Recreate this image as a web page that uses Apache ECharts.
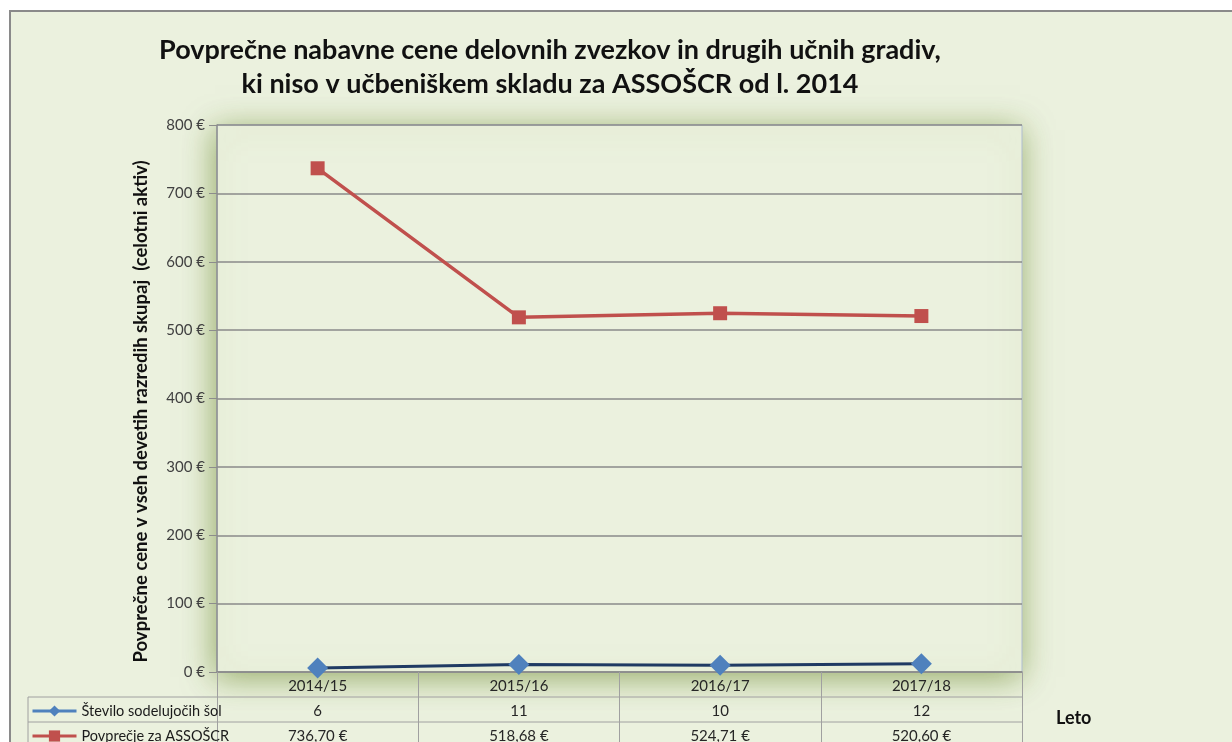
<!DOCTYPE html>
<html>
<head>
<meta charset="utf-8">
<script src="https://cdn.jsdelivr.net/npm/echarts@6/dist/echarts.min.js"></script>
<style>
html,body{margin:0;padding:0;background:#ffffff;}
#frame{position:absolute;left:9px;top:10px;width:1240px;height:760px;background:#EBF1DE;border-top:2px solid #8a8a8a;border-left:2px solid #8a8a8a;}
#chart{position:absolute;left:0;top:0;width:1232px;height:742px;}
</style>
</head>
<body>
<div id="frame"></div>
<div id="chart"></div>
<script>
const FONT = "Lato, 'Open Sans', sans-serif";
const titleLines = ["Povprečne nabavne cene delovnih zvezkov in drugih učnih gradiv,", "ki niso v učbeniškem skladu za ASSOŠCR od l. 2014"];
const yAxisTitle = "Povprečne cene v vseh devetih razredih skupaj  (celotni aktiv)";
const xAxisTitle = "Leto";
const categories = ["2014/15", "2015/16", "2016/17", "2017/18"];
const schoolsName = "Število sodelujočih šol";
const schoolsCount = [6, 11, 10, 12];
const avgName = "Povprečje za ASSOŠCR";
const avgPrice = [736.70, 518.68, 524.71, 520.60];
const yTicks = [0, 100, 200, 300, 400, 500, 600, 700, 800];

const G = {left: 217, right: 1022, top: 125, bottom: 672};
const rowH = 25;
const tableLeft = 28;
const fmtEur = v => v.toFixed(2).replace('.', ',') + ' €';

const chart = echarts.init(document.getElementById('chart'));
const lineColor = '#a0a0a0';

chart.setOption({
  backgroundColor: 'transparent',
  textStyle: {fontFamily: FONT},
  title: {
    text: titleLines.join('\n'),
    left: 545, top: 28, textAlign: 'center',
    textStyle: {fontFamily: FONT, fontSize: 27, fontWeight: 'bold', color: '#111', lineHeight: 34}
  },
  grid: {
    left: G.left, right: 1232 - G.right, top: G.top, bottom: 742 - G.bottom,
    containLabel: false, outerBoundsMode: 'none',
    show: true, backgroundColor: '#EBF1DE', borderColor: '#b0bdd2', borderWidth: 1,
    shadowColor: 'rgba(105,135,45,0.65)', shadowBlur: 30, shadowOffsetX: -2, shadowOffsetY: 5
  },
  legend: {
    orient: 'vertical', left: 31, bottom: -3, padding: 0, itemGap: 7, itemWidth: 44, itemHeight: 14,
    textStyle: {fontFamily: FONT, fontSize: 14.5, color: '#1a1a1a', lineHeight: 18},
    data: [
      {name: schoolsName, itemStyle: {color: '#4F81BD'}, lineStyle: {color: '#4F81BD', width: 3}},
      {name: avgName, itemStyle: {color: '#C0504D'}, lineStyle: {color: '#C0504D', width: 3}}
    ]
  },
  xAxis: {
    type: 'category', data: categories, boundaryGap: true,
    name: xAxisTitle, nameLocation: 'end', nameGap: 34,
    nameTextStyle: {fontFamily: FONT, fontSize: 18, fontWeight: 'bold', color: '#111', verticalAlign: 'top', padding: [37, 0, 0, 0]},
    axisLine: {show: true, lineStyle: {color: '#8c8c8c', width: 1.5}},
    axisTick: {show: true, inside: false, length: 70, lineStyle: {color: lineColor, width: 1}},
    axisLabel: {
      margin: 2, interval: 0,
      formatter: (v, i) => '{c|' + v + '}\n{c|' + schoolsCount[i] + '}\n{c|' + fmtEur(avgPrice[i]) + '}',
      rich: {c: {fontFamily: FONT, fontSize: 15, color: '#262626', lineHeight: rowH, height: rowH}}
    }
  },
  yAxis: {
    type: 'value', min: 0, max: 800, interval: 100,
    name: yAxisTitle, nameLocation: 'middle', nameGap: 66, nameRotate: 90,
    nameTextStyle: {fontFamily: FONT, fontSize: 18.5, fontWeight: 'bold', color: '#111', padding: [0, 26, 0, 0]},
    axisLine: {show: true, lineStyle: {color: '#8c8c8c', width: 1.5}},
    axisTick: {show: true, length: 8, lineStyle: {color: '#8c8c8c'}},
    axisLabel: {formatter: v => v + ' €', fontFamily: FONT, fontSize: 15, color: '#404040', margin: 12},
    splitLine: {show: true, lineStyle: {color: '#8a8a8a', width: 1.5}}
  },
  graphic: [
    {type: 'line', shape: {x1: tableLeft, y1: G.bottom + rowH, x2: G.right, y2: G.bottom + rowH}, style: {stroke: lineColor, lineWidth: 1}, z: 10},
    {type: 'line', shape: {x1: tableLeft, y1: G.bottom + 2 * rowH, x2: G.right, y2: G.bottom + 2 * rowH}, style: {stroke: lineColor, lineWidth: 1}, z: 10},
    {type: 'line', shape: {x1: tableLeft, y1: G.bottom + rowH, x2: tableLeft, y2: 742}, style: {stroke: lineColor, lineWidth: 1}, z: 10}
  ],
  series: [
    {
      name: schoolsName, type: 'line', data: schoolsCount,
      symbol: 'diamond', symbolSize: 21,
      itemStyle: {color: '#4F81BD'},
      lineStyle: {color: '#1F3A63', width: 3},
      z: 5
    },
    {
      name: avgName, type: 'line', data: avgPrice,
      symbol: 'rect', symbolSize: 14,
      itemStyle: {color: '#C0504D'},
      lineStyle: {color: '#C0504D', width: 3.5},
      z: 4
    }
  ]
});
</script>
</body>
</html>
